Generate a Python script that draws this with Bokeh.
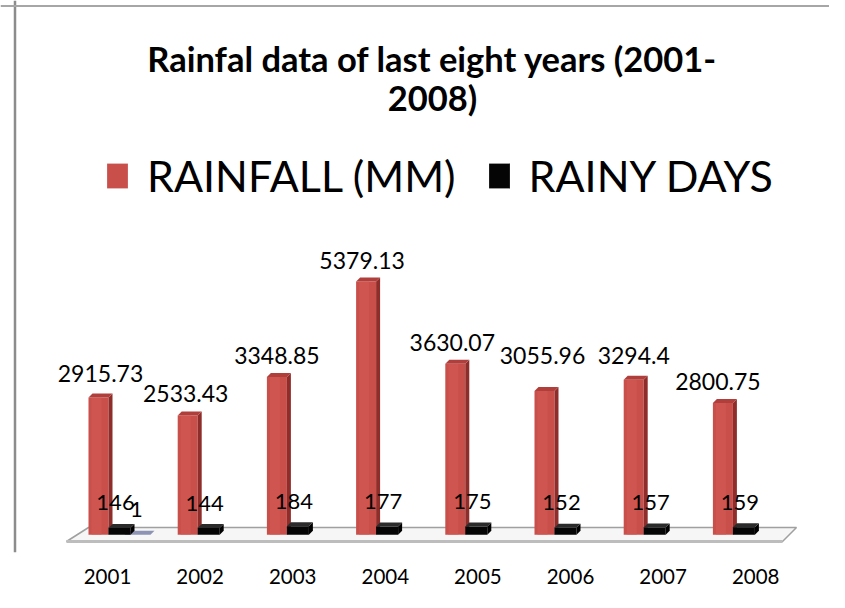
import numpy as np
from bokeh.plotting import figure
from bokeh.models import Range1d, Span, Legend, LegendItem, FixedTicker
from bokeh.core.properties import value
from bokeh.embed import file_html
from bokeh.resources import INLINE

# ---------------- data ----------------
title_lines = ["Rainfal data of last eight years (2001-", "2008)"]
years = ["2001", "2002", "2003", "2004", "2005", "2006", "2007", "2008"]
rainfall_mm = [2915.73, 2533.43, 3348.85, 5379.13, 3630.07, 3055.96, 3294.4, 2800.75]
rainy_days = [146, 144, 184, 177, 175, 152, 157, 159]
extra_series = [1]            # stray third series, only visible for 2001
series_names = ["RAINFALL (MM)", "RAINY DAYS"]

# ---------------- layout (picture pixels) ----------------
W, H = 829, 592
BOTTOM_BORDER = 40
FRAME_H = H - BOTTOM_BORDER
PX_PER_CAT = 92.6     # distance between year ticks
CAT0_PX = 107.0       # x of first tick
ZERO_PY = 534.3       # y of value 0
PX_PER_UNIT = 0.04709 # pixels per value unit
TXT_FIX = -9          # empirical correction for alphabetic baseline


def xd(px):
    return (px - CAT0_PX) / PX_PER_CAT


def yd(py):
    return (ZERO_PY - py) / PX_PER_UNIT


def wx(px):
    return px / PX_PER_CAT


def hy(px):
    return px / PX_PER_UNIT


FONT = "Lato"

p = figure(width=W, height=H,
           x_range=Range1d(xd(0), xd(W)), y_range=Range1d(yd(FRAME_H), yd(0)),
           output_backend="svg", toolbar_location=None, y_axis_location=None,
           min_border_left=0, min_border_right=0, min_border_top=0,
           min_border_bottom=BOTTOM_BORDER)
p.grid.visible = False
p.outline_line_color = None
p.background_fill_color = "white"
p.border_fill_color = "white"

n = len(years)
idx = np.arange(n)
# 3-D perspective: bars drift slightly left of the year ticks
red_c = idx + wx(-7 - 3.4 * idx)

# ---------------- floor ----------------
p.patch(x=[xd(66), xd(88), xd(796), xd(782)], y=[yd(541), yd(527), yd(527), yd(541)],
        fill_color="#f6f6f6", line_color="#a0a0a0", line_width=1.5)
p.line(x=[xd(66), xd(782)], y=[yd(541), yd(541)], line_color="#bdbdbd", line_width=3)


def bar3d(left, right, top, front, side, topc, side_px=4, depth_px=4):
    r_front = p.quad(left=left, right=right, bottom=0, top=top,
                     fill_color=front, line_color=None)
    xs_side, ys_side, xs_top, ys_top = [], [], [], []
    for l, r, t in zip(left, right, top):
        xs_side.append([r, r + wx(side_px), r + wx(side_px), r])
        ys_side.append([0, hy(depth_px), t + hy(depth_px), t])
        xs_top.append([l, l + wx(side_px), r + wx(side_px), r])
        ys_top.append([t, t + hy(depth_px), t + hy(depth_px), t])
    p.patches(xs=xs_side, ys=ys_side, fill_color=side, line_color=None)
    p.patches(xs=xs_top, ys=ys_top, fill_color=topc, line_color=None)
    return r_front


# rainfall bars
red_left = red_c - wx(12)
red_right = red_c + wx(8)
r_red = bar3d(red_left, red_right, np.array(rainfall_mm), "#C94F4B", "#8E2D2A", "#B03F3C")
p.quad(left=red_c - wx(9), right=red_c + wx(1), bottom=0, top=np.array(rainfall_mm),
       fill_color="#D35A55", line_color=None, fill_alpha=0.6)

# stray third series (2001)
ex_left = red_c[:1] + wx(24)
bar3d(ex_left, ex_left + wx(26), np.array(extra_series, dtype=float),
      "#7e84a6", "#6a6f90", "#8d93b5", side_px=4, depth_px=4)

# rainy-day bars
blk_left = red_c + wx(8)
blk_right = red_c + wx(30)
r_blk = bar3d(blk_left, blk_right, np.array(rainy_days, dtype=float), "#050505", "#000000", "#2b2b2b")

# ---------------- value labels ----------------
rain_dx = [0, -4, -2, -6, -5, -4, -2, -7]
rain_dy = [-15, -13, -13, -12, -12, -26, -15, -12]
p.text(x=red_c + np.array(rain_dx) / PX_PER_CAT, y=rainfall_mm,
       text=[str(v) for v in rainfall_mm], y_offset=[d + TXT_FIX for d in rain_dy],
       text_align="center", text_baseline="alphabetic",
       text_font=value(FONT), text_font_size="23px", text_color="black")

p.text(x=red_c + wx(15), y=rainy_days, text=[str(v) for v in rainy_days], y_offset=-16 + TXT_FIX,
       text_align="center", text_baseline="alphabetic",
       text_font=value(FONT), text_font_size="22px", text_color="black")

p.text(x=red_c[:1] + wx(36), y=extra_series, text=[str(v) for v in extra_series],
       y_offset=-16 + TXT_FIX, text_align="center", text_baseline="alphabetic",
       text_font=value(FONT), text_font_size="22px", text_color="black")

# ---------------- title ----------------
p.text(x=[xd(432), xd(432)], y=[yd(67 + TXT_FIX), yd(106 + TXT_FIX)], text=title_lines,
       text_align="center", text_baseline="alphabetic",
       text_font=value(FONT), text_font_style="bold", text_font_size="34.5px", text_color="black")

# ---------------- legend ----------------
legend = Legend(items=[LegendItem(label=series_names[0], renderers=[r_red]),
                       LegendItem(label=series_names[1], renderers=[r_blk])],
                orientation="horizontal", location=(104, FRAME_H - 201.3),
                glyph_width=26, glyph_height=31, label_standoff=17, spacing=30,
                padding=0, margin=0, border_line_color=None, background_fill_alpha=0,
                label_text_font=FONT, label_text_font_size="43px", label_text_color="black")
p.add_layout(legend, "center")

# ---------------- x axis ----------------
ax = p.xaxis[0]
ax.ticker = FixedTicker(ticks=list(range(n)))
ax.major_label_overrides = {i: y for i, y in enumerate(years)}
ax.axis_line_color = None
ax.major_tick_line_color = None
ax.minor_tick_line_color = None
ax.major_tick_out = 0
ax.major_tick_in = 0
ax.major_label_standoff = 16
ax.major_label_text_font = FONT
ax.major_label_text_font_size = "20.5px"
ax.major_label_text_color = "black"

# ---------------- chart border ----------------
p.add_layout(Span(location=xd(14.5), dimension="height", line_color="#8c8c8c", line_width=2.5))
p.add_layout(Span(location=yd(5.5), dimension="width", line_color="#a6a6a6", line_width=2))

open("out.html", "w").write(file_html(p, INLINE))
